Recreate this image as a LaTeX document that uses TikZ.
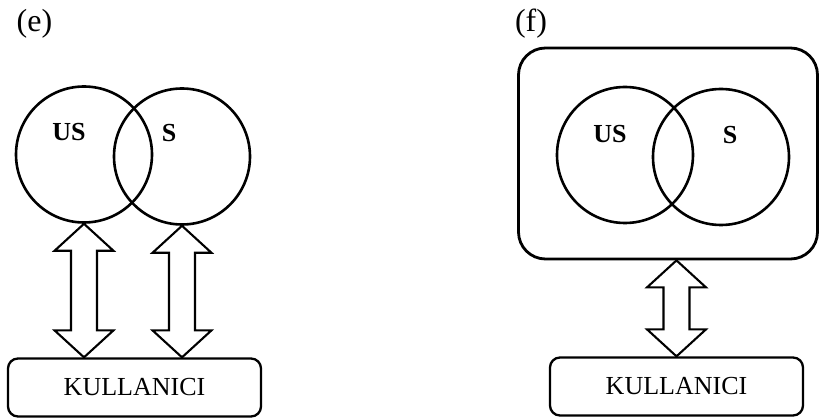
\documentclass[tikz,border=0pt]{standalone}
\usepackage{fontspec}
\setmainfont{Liberation Serif}
\usetikzlibrary{calc,positioning}

\newcommand{\dblarrow}[2]{%
  \draw[myarrow] (#1) -- ++(-29.5,27) -- ++(16.5,0)
    -- ($(#2)+(-13,-27)$) -- ++(-16.5,0) -- (#2)
    -- ++(29.5,-27) -- ++(-16.5,0)
    -- ($(#1)+(13,27)$) -- ++(16.5,0) -- cycle;}

\begin{document}
\begin{tikzpicture}[
  x=1pt, y=-1pt,
  mycircle/.style={
    draw,
    circle,
    line width=2.6pt,
    minimum size=136pt,
    inner sep=0pt
    },
  mybox/.style={
    draw,
    rectangle,
    rounded corners=10pt,
    line width=2.3pt,
    minimum width=253pt,
    minimum height=58pt,
    inner sep=0pt,
    font=\fontsize{26}{30}\selectfont
    },
  myframe/.style={
    draw,
    rectangle,
    rounded corners=27pt,
    line width=2.8pt,
    minimum width=299pt,
    minimum height=211pt
    },
  myarrow/.style={
    draw,
    fill=white,
    line width=2.1pt,
    line join=miter
    },
  mylabel/.style={
    inner sep=0pt,
    font=\fontsize{26}{30}\selectfont\bfseries
    },
  mycaption/.style={
    inner sep=0pt,
    font=\fontsize{32}{38}\selectfont
    }
]
\useasboundingbox (0,0) rectangle (820,419);

\node[mycaption] (cape) at (34.5,23.5) {(e)};
\node[mycaption] (capf) at (531,23.5) {(f)};

% left: two sets, each tied to the users
\node[mycircle] (us1) at (84,154.5) {};
\node[mycircle] (s1) at (182,156.5) {};
\node[mylabel] (us1l) at (69,132.5) {US};
\node[mylabel] (s1l) at (169,133.5) {S};

\node[mybox] (kul1) at (134.5,387.5) {KULLANICI};

\dblarrow{us1.south}{us1.south |- kul1.north}
\dblarrow{s1.south}{s1.south |- kul1.north}

% right: both sets inside one frame
\node[myframe] (frame) at (668,153.5) {};
\node[mycircle] (us2) at (625,155) {};
\node[mycircle] (s2) at (721,157) {};
\node[mylabel] (us2l) at (610,134) {US};
\node[mylabel] (s2l) at (730,135) {S};

\node[mybox] (kul2) at (676.5,386.5) {KULLANICI};

\dblarrow{kul2.north |- frame.south}{kul2.north}
\end{tikzpicture}
\end{document}
